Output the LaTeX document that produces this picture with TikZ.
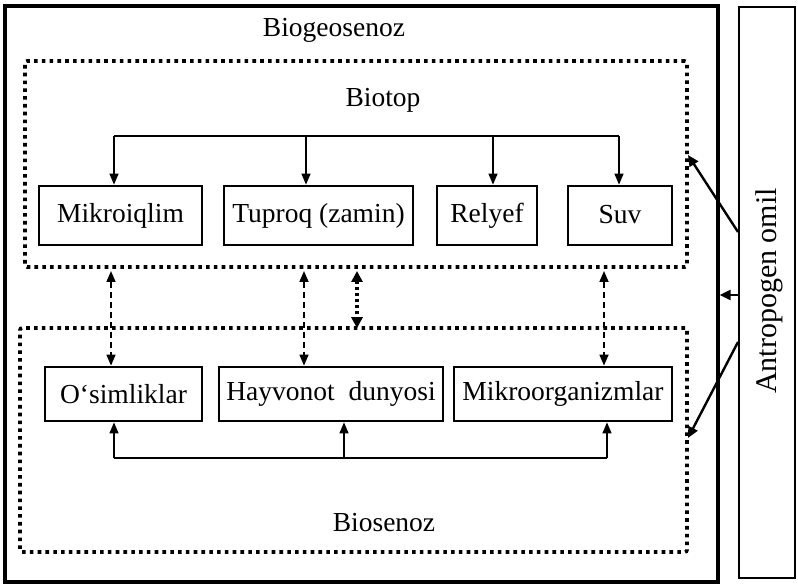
\documentclass[tikz,border=0pt]{standalone}
\usepackage{fontspec}
\setmainfont{Liberation Serif}
\usetikzlibrary{arrows.meta}
\begin{document}
\begin{tikzpicture}[x=1pt,y=-1pt,
  txt/.style={font=\fontsize{27.5}{31}\selectfont, inner sep=0pt},
  box/.style={draw, line width=2.8pt, rectangle, inner sep=0pt, font=\fontsize{27.5}{31}\selectfont},
  dotbox/.style={draw, line width=3.6pt, dash pattern=on 3.6pt off 4.2pt, rounded corners=2pt, rectangle, inner sep=0pt},
  conn/.style={line width=1.5pt, -{Triangle[length=11pt,width=9pt]}},
  dasharr/.style={line width=1.7pt, dash pattern=on 6pt off 4pt, {Triangle[length=11pt,width=9pt]}-{Triangle[length=11pt,width=9pt]}},
  dotarr/.style={line width=3.4pt, dash pattern=on 3pt off 3pt, {Triangle[length=11pt,width=11pt]}-{Triangle[length=11pt,width=11pt]}},
  antarr/.style={line width=2.4pt, -{Triangle[length=11pt,width=10pt]}}
]
\useasboundingbox (0,0) rectangle (798,585);
% outer boxes
\node[draw, line width=3.4pt, minimum width=713pt, minimum height=576pt, inner sep=0pt] (geo) at (361.5,294) {};
\node[draw, line width=2.4pt, minimum width=56pt, minimum height=571pt, inner sep=0pt] (ant) at (767,292.5) {};
\node[font=\fontsize{30}{34}\selectfont, inner sep=0pt, rotate=90] (antl) at (769,291) {Antropogen omil};
\node[txt] (geol) at (334,30) {Biogeosenoz};
% dotted containers
\node[dotbox, minimum width=662pt, minimum height=206pt] (biotop) at (356,164) {};
\node[dotbox, minimum width=667pt, minimum height=224pt] (biosen) at (353.5,440) {};
\node[txt] (biotopl) at (383,100) {Biotop};
\node[txt] (biosenl) at (384,523) {Biosenoz};
% top row
\node[box, minimum width=163pt, minimum height=59pt] (mik) at (120.5,215.5) {Mikroiqlim};
\node[box, minimum width=189pt, minimum height=59pt] (tup) at (318.5,215.5) {Tuproq (zamin)};
\node[box, minimum width=100pt, minimum height=59pt] (rel) at (487,215.5) {Relyef};
\node[box, minimum width=104pt, minimum height=59pt] (suv) at (620,215.5) {\raisebox{3pt}{Suv}};
% bottom row
\node[box, minimum width=157pt, minimum height=54pt] (osi) at (123.5,394) {O‘simliklar};
\node[box, minimum width=224pt, minimum height=54pt] (hay) at (331,394) {Hayvonot\ \ dunyosi};
\node[box, minimum width=218pt, minimum height=54pt] (mo) at (563,394) {Mikroorganizmlar};
% top bus
\coordinate (t1) at (114,136);
\coordinate (t2) at (306,136);
\coordinate (t3) at (493,136);
\coordinate (t4) at (619,136);
\draw[line width=1.5pt] (t1) -- (t4);
\draw[conn] (t1) -- (t1 |- mik.north);
\draw[conn] (t2) -- (t2 |- tup.north);
\draw[conn] (t3) -- (t3 |- rel.north);
\draw[conn] (t4) -- (t4 |- suv.north);
% bottom bus
\coordinate (b1) at (114,458);
\coordinate (b2) at (344,458);
\coordinate (b3) at (607,458);
\draw[line width=1.5pt] (b1) -- (b3);
\draw[conn] (b1) -- (b1 |- osi.south);
\draw[conn] (b2) -- (b2 |- hay.south);
\draw[conn] (b3) -- (b3 |- mo.south);
% dashed links
\coordinate (d1) at (111,271);
\coordinate (d2) at (304,271);
\coordinate (d3) at (604,271);
\coordinate (d4) at (357,271);
\draw[dasharr] (d1) -- (d1 |- osi.north);
\draw[dasharr] (d2) -- (d2 |- hay.north);
\draw[dasharr] (d3) -- (d3 |- mo.north);
\draw[dotarr] (d4) -- ([yshift=-2pt]d4 |- biosen.north);
% anthropogenic arrows
\coordinate (s1) at (738,232);
\coordinate (e1) at (688,155);
\coordinate (s2) at (738,342);
\coordinate (e2) at (688,438);
\coordinate (s3) at (738,295);
\draw[antarr] (s1) -- (e1);
\draw[antarr] (s2) -- (e2);
\draw[antarr] (s3) -- (s3 -| geo.east);
\end{tikzpicture}
\end{document}
